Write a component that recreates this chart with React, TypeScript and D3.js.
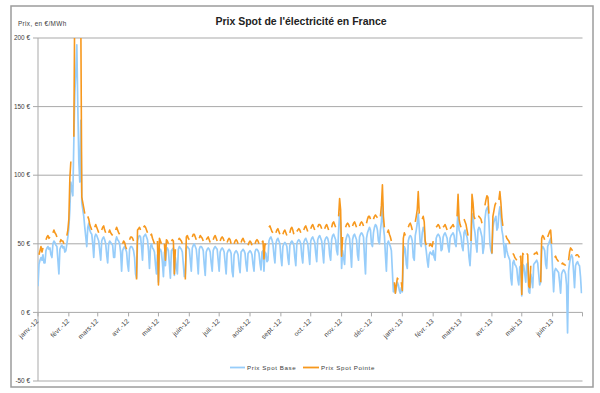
import React from "react";
import * as d3 from "d3";

const title = "Prix Spot de l'électricité en France";
const yTitle = "Prix, en €/MWh";
const yTicks = [-50, 0, 50, 100, 150, 200];
const monthLabels = [
  "janv.-12", "févr.-12", "mars-12", "avr.-12", "mai-12", "juin-12",
  "juil.-12", "août-12", "sept.-12", "oct.-12", "nov.-12", "déc.-12",
  "janv.-13", "févr.-13", "mars-13", "avr.-13", "mai-13", "juin-13",
];
const seriesNames = ["Prix Spot Base", "Prix Spot Pointe"];
const firstDay = new Date(2012, 0, 1);
const lastMonth = new Date(2013, 6, 1);

// daily values, one row per week (Sun..Sat), from 1 Jan 2012
const base = [
  19, 35, 38, 40, 38, 42, 36,
  36, 45, 47, 48, 46, 47, 42,
  40, 50, 52, 51, 49, 48, 38,
  28, 46, 48, 49, 47, 48, 44,
  45, 50, 55, 62, 75, 95, 90,
  85, 125, 160, 175, 195, 150, 110,
  95, 140, 80, 75, 70, 62, 55,
  48, 62, 65, 60, 58, 57, 50,
  40, 55, 57, 56, 54, 52, 45,
  38, 52, 54, 55, 53, 50, 42,
  36, 50, 52, 51, 50, 49, 40,
  40, 52, 55, 53, 52, 50, 44,
  30, 45, 47, 48, 46, 44, 35,
  30, 46, 48, 48, 47, 45, 40,
  28, 25, 52, 55, 56, 55, 48,
  38, 55, 56, 57, 55, 53, 45,
  32, 48, 50, 47, 46, 44, 35,
  28, 42, 22, 45, 46, 44, 36,
  26, 44, 34, 46, 47, 45, 35,
  25, 45, 46, 47, 27, 40, 33,
  28, 46, 48, 47, 46, 44, 35,
  26, 28, 47, 48, 47, 46, 38,
  30, 47, 49, 50, 48, 46, 38,
  28, 46, 48, 48, 47, 45, 35,
  27, 44, 46, 47, 46, 44, 36,
  30, 45, 47, 48, 47, 46, 38,
  30, 44, 46, 47, 46, 44, 36,
  28, 43, 45, 46, 45, 43, 30,
  26, 42, 44, 45, 44, 42, 34,
  29, 44, 45, 46, 45, 43, 35,
  30, 43, 44, 45, 44, 42, 35,
  30, 44, 46, 46, 45, 43, 36,
  31, 44, 45, 30, 44, 43, 37,
  38, 52, 54, 55, 53, 50, 42,
  36, 50, 53, 54, 52, 50, 40,
  34, 48, 50, 51, 50, 48, 40,
  35, 49, 51, 52, 51, 49, 40,
  34, 50, 52, 53, 52, 50, 41,
  36, 51, 53, 54, 52, 50, 42,
  35, 52, 54, 55, 53, 51, 43,
  37, 53, 55, 56, 54, 52, 44,
  36, 52, 54, 55, 54, 51, 42,
  38, 53, 56, 57, 55, 53, 45,
  42, 60, 72, 65, 32, 45, 40,
  35, 52, 55, 57, 56, 54, 44,
  33, 53, 56, 57, 55, 53, 42,
  38, 55, 57, 58, 57, 55, 40,
  28, 54, 58, 60, 62, 60, 50,
  48, 58, 62, 64, 63, 60, 52,
  50, 60, 66, 80, 62, 56, 42,
  30, 50, 52, 50, 48, 45, 30,
  15, 20, 14, 18, 22, 20, 16,
  14, 18, 15, 40, 48, 46, 35,
  32, 52, 55, 56, 55, 52, 40,
  38, 56, 60, 65, 72, 62, 50,
  48, 58, 62, 60, 50, 45, 38,
  33, 42, 44, 43, 42, 45, 40,
  38, 54, 56, 57, 56, 54, 45,
  46, 55, 57, 58, 56, 54, 48,
  44, 54, 56, 57, 58, 56, 50,
  48, 62, 74, 60, 58, 55, 48,
  45, 58, 60, 57, 55, 50, 40,
  34, 48, 72, 70, 62, 58, 50,
  44, 60, 62, 61, 58, 55, 43,
  48, 68, 74, 76, 77, 66, 50,
  45, 43, 62, 66, 68, 70, 60,
  62, 72, 77, 70, 60, 56, 48,
  40, 50, 45, 42, 40, 38, 25,
  20, 36, 38, 35, 34, 32, 24,
  20, 33, 34, 12, 35, 34, 28,
  22, 35, 36, 15, 14, 28, 24,
  18, 35, 36, 37, 38, 36, 28,
  20, 22, 46, 48, 47, 45, 35,
  32, 48, 50, 52, 54, 46, 30,
  15, 30, 32, 31, 30, 29, 22,
  14, 28, 30, 31, 30, 28, 20,
  -15, 30, 36, 40, 42, 40, 30,
  18, 34, 36, 37, 35, 34, 26,
  14,
];

// pointe (peak) only exists on weekdays: null on Sat / Sun
const _ = null;
const pointe = [
  _, 42, 45, 48, 44, 47, _,
  _, 53, 55, 56, 54, 55, _,
  _, 58, 60, 58, 57, 55, _,
  _, 51, 53, 52, 52, 50, _,
  _, 56, 60, 68, 98, 110, _,
  _, 128, 235, 260, 250, 215, _,
  _, 215, 84, 80, 76, 72, _,
  _, 70, 68, 64, 62, 60, _,
  _, 62, 64, 62, 60, 58, _,
  _, 60, 62, 63, 60, 58, _,
  _, 58, 60, 58, 57, 56, _,
  _, 60, 62, 60, 58, 57, _,
  _, 50, 52, 51, 48, 46, _,
  _, 53, 55, 55, 54, 52, _,
  _, 24, 60, 61, 62, 60, _,
  _, 62, 63, 62, 60, 58, _,
  _, 56, 57, 54, 52, 50, _,
  _, 52, 20, 54, 52, 50, _,
  _, 50, 38, 53, 52, 50, _,
  _, 52, 53, 52, 28, 46, _,
  _, 53, 54, 53, 52, 50, _,
  _, 24, 55, 56, 54, 53, _,
  _, 55, 57, 57, 55, 53, _,
  _, 54, 56, 55, 54, 52, _,
  _, 53, 54, 55, 53, 51, _,
  _, 53, 55, 56, 54, 52, _,
  _, 52, 54, 55, 54, 52, _,
  _, 51, 53, 54, 53, 50, _,
  _, 50, 52, 53, 52, 50, _,
  _, 51, 53, 54, 52, 51, _,
  _, 49, 51, 52, 51, 49, _,
  _, 50, 52, 53, 52, 50, _,
  _, 51, 52, 39, 50, 49, _,
  _, 62, 63, 61, 59, 58, _,
  _, 58, 60, 61, 59, 57, _,
  _, 57, 59, 60, 58, 56, _,
  _, 58, 61, 62, 60, 57, _,
  _, 59, 60, 61, 60, 58, _,
  _, 60, 62, 63, 61, 59, _,
  _, 61, 63, 64, 62, 60, _,
  _, 62, 64, 64, 63, 61, _,
  _, 61, 63, 64, 62, 60, _,
  _, 62, 65, 66, 64, 62, _,
  _, 70, 83, 75, 41, 55, _,
  _, 62, 64, 65, 64, 62, _,
  _, 63, 65, 66, 64, 62, _,
  _, 63, 65, 66, 65, 63, _,
  _, 65, 68, 70, 70, 68, _,
  _, 68, 70, 71, 70, 69, _,
  _, 70, 78, 93, 70, 62, _,
  _, 58, 60, 57, 55, 52, _,
  _, 22, 14, 20, 25, 24, _,
  _, 22, 16, 54, 58, 56, _,
  _, 62, 64, 65, 63, 60, _,
  _, 66, 70, 75, 88, 72, _,
  _, 68, 70, 66, 52, 49, _,
  _, 48, 50, 49, 48, 52, _,
  _, 62, 63, 64, 63, 61, _,
  _, 62, 63, 64, 62, 60, _,
  _, 61, 62, 63, 64, 62, _,
  _, 70, 86, 68, 64, 62, _,
  _, 68, 66, 64, 60, 56, _,
  _, 52, 86, 80, 70, 68, _,
  _, 70, 70, 69, 68, 65, _,
  _, 78, 82, 85, 84, 72, _,
  _, 43, 70, 74, 78, 80, _,
  _, 82, 88, 80, 69, 63, _,
  _, 56, 54, 53, 52, 50, _,
  _, 43, 42, 40, 39, 38, _,
  _, 40, 41, 13, 43, 42, _,
  _, 43, 42, 19, 18, 34, _,
  _, 42, 43, 43, 44, 42, _,
  _, 22, 54, 56, 55, 53, _,
  _, 55, 57, 59, 60, 50, _,
  _, 40, 41, 39, 38, 37, _,
  _, 35, 36, 35, 35, 34, _,
  _, 38, 44, 47, 46, 45, _,
  _, 41, 42, 42, 41, 40, _,
  _,
];

const W = 600;
const H = 393;
const plot = { left: 38, right: 582.5, top: 38, bottom: 381 };
const font = "'Liberation Sans', Arial, sans-serif";
const blue = "#97cdfa";
const orange = "#f7981d";
const grid = "#a9a9a9";
const textColor = "#3a3a3a";

export default function App() {
  const x = d3.scaleTime().domain([firstDay, lastMonth]).range([plot.left, plot.right]);
  const y = d3.scaleLinear().domain([-50, 200]).range([plot.bottom, plot.top]);
  const dayOf = (i: number) => d3.timeDay.offset(firstDay, i);

  const line = d3
    .line<number | null>()
    .defined((v) => v != null)
    .x((_v, i) => x(dayOf(i)))
    .y((v) => y(v as number));

  const months = d3.timeMonth.range(firstDay, d3.timeDay.offset(lastMonth, 1));

  return (
    <svg width={W} height={H} style={{ position: "absolute", left: 0, top: 0 }} fontFamily={font}>
      <rect x={0} y={0} width={W} height={H} fill="#fff" />
      <rect x={11} y={6} width={582} height={381} fill="#fff" stroke="#9c9c9c" strokeWidth={1.5} />

      <text x={301} y={25} textAnchor="middle" fontSize={10.5} fontWeight="bold" fill="#222">
        {title}
      </text>
      <text x={18} y={25.5} fontSize={6.4} letterSpacing={0.35} fill={textColor}>
        {yTitle}
      </text>

      {/* horizontal grid + y labels */}
      {yTicks.map((t) => (
        <g key={t}>
          <line x1={plot.left - 5} x2={plot.right} y1={y(t)} y2={y(t)} stroke={grid} strokeWidth={1} />
          <text x={30} y={y(t)} dy="0.35em" textAnchor="end" fontSize={6.4} fill={textColor}>
            {`${t} €`}
          </text>
        </g>
      ))}
      <line x1={plot.left} x2={plot.left} y1={plot.top} y2={plot.bottom} stroke={grid} strokeWidth={1} />

      {/* month ticks */}
      {months.map((m, i) => (
        <g key={i} transform={`translate(${x(m)},${y(0)})`}>
          <line y1={0} y2={4} stroke={grid} strokeWidth={1} />
          {i < monthLabels.length && (
            <text
              transform="translate(1,9) rotate(-45)"
              textAnchor="end"
              fontSize={6.6}
              letterSpacing={0.2}
              fill={textColor}
            >
              {monthLabels[i]}
            </text>
          )}
        </g>
      ))}

      <defs>
        <clipPath id="plotClip">
          <rect x={plot.left} y={plot.top} width={plot.right - plot.left} height={plot.bottom - plot.top} />
        </clipPath>
      </defs>
      <g clipPath="url(#plotClip)" fill="none" strokeLinejoin="round">
        <path d={line(base) ?? ""} stroke={blue} strokeWidth={1.7} />
        <path d={line(pointe) ?? ""} stroke={orange} strokeWidth={1.6} />
      </g>

      {/* legend */}
      <g fontSize={6.2} fill={textColor}>
        <line x1={230} x2={245} y1={367.5} y2={367.5} stroke={blue} strokeWidth={1.8} />
        <text x={247} y={367.5} dy="0.35em" letterSpacing={0.6}>
          {seriesNames[0]}
        </text>
        <line x1={303} x2={319} y1={367.5} y2={367.5} stroke={orange} strokeWidth={1.8} />
        <text x={321} y={367.5} dy="0.35em" letterSpacing={0.6}>
          {seriesNames[1]}
        </text>
      </g>
    </svg>
  );
}
